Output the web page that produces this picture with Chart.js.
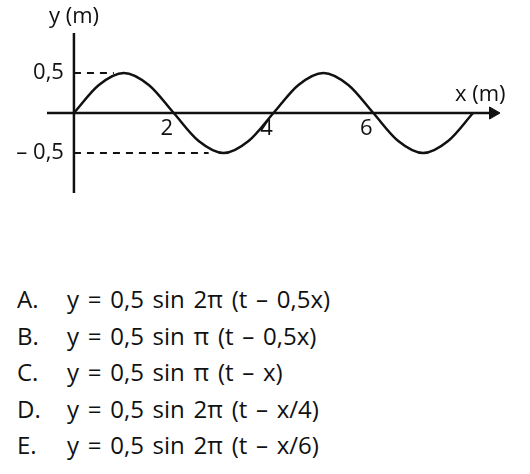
<!DOCTYPE html>
<html>
<head>
<meta charset="utf-8">
<script src="https://cdn.jsdelivr.net/npm/chart.js@4"></script>
<style>
    html, body { margin: 0; padding: 0; background: #fff; }
    #wrap { position: relative; width: 530px; height: 474px; }
    #chartBox { position: absolute; left: 0; top: 0; width: 530px; height: 230px; }
    #options { position: absolute; left: 0; top: 281px; font-family: "Open Sans", sans-serif; font-size: 24px; color: #111; }
    #options div { position: relative; height: 36.5px; line-height: 36.5px; }
    #options .lbl { position: absolute; left: 17px; }
    #options .eq { position: absolute; left: 67px; white-space: nowrap; word-spacing: 2.5px; }
</style>
</head>
<body>
<div id="wrap">
    <div id="chartBox"><canvas id="chartCanvas"></canvas></div>
    <div id="options"></div>
</div>
<script>
// adatok
const waveX = [0, 0.5, 1, 1.5, 2, 2.5, 3, 3.5, 4, 4.5, 5, 5.5, 6, 6.5, 7, 7.5, 8];
const waveY = [0, 0.35, 0.5, 0.35, 0, -0.35, -0.5, -0.35, 0, 0.35, 0.5, 0.35, 0, -0.35, -0.5, -0.35, 0];
const xTicks = [2, 4, 6];
const yTicks = [0.5, -0.5];
const yTickLabels = ["0,5", "– 0,5"];
const dashTopEnd = 0.8;
const dashBottomEnd = 2.7;
const optionLabels = ["A.", "B.", "C.", "D.", "E."];
const optionTexts = [
    "y = 0,5 sin 2π (t – 0,5x)",
    "y = 0,5 sin π (t – 0,5x)",
    "y = 0,5 sin π (t – x)",
    "y = 0,5 sin 2π (t – x/4)",
    "y = 0,5 sin 2π (t – x/6)"
];

const ink = "#111";

const opts = document.getElementById("options");
optionLabels.forEach((l, i) => {
    const row = document.createElement("div");
    row.innerHTML = `<span class="lbl">${l}</span><span class="eq">${optionTexts[i]}</span>`;
    opts.appendChild(row);
});

const labelPlugin = {
    id: "labels",
    afterDatasetsDraw(chart) {
        const { ctx, scales: { x, y } } = chart;
        ctx.save();
        ctx.fillStyle = ink;
        ctx.font = '22px "Open Sans", sans-serif';
        ctx.textBaseline = "middle";
        ctx.textAlign = "center";
        xTicks.forEach(v => ctx.fillText(String(v), x.getPixelForValue(v) - 7, y.getPixelForValue(0) + 16));
        ctx.textAlign = "right";
        yTicks.forEach((v, i) => ctx.fillText(yTickLabels[i], x.getPixelForValue(0) - 10, y.getPixelForValue(v)));
        ctx.textAlign = "left";
        ctx.fillText("y (m)", 49, 17);
        ctx.fillText("x (m)", 455, 95);
        ctx.restore();
    }
};

new Chart(document.getElementById("chartCanvas"), {
    type: "line",
    data: {
        datasets: [
            {
                data: waveX.map((v, i) => ({ x: v, y: waveY[i] })),
                borderColor: ink,
                borderWidth: 2.5,
                cubicInterpolationMode: "monotone",
                pointRadius: 0
            },
            {
                data: [{ x: 0, y: 1 }, { x: 0, y: -1 }],
                borderColor: ink,
                borderWidth: 2.5,
                pointRadius: 0
            },
            {
                data: [{ x: -0.54, y: 0 }, { x: 8.35, y: 0 }],
                borderColor: ink,
                borderWidth: 2.5,
                pointRadius: 0
            },
            {
                data: [{ x: 8.4, y: 0 }],
                pointStyle: "triangle",
                rotation: 90,
                pointRadius: 7,
                backgroundColor: ink,
                borderColor: ink,
                showLine: false
            },
            {
                data: [{ x: 0, y: 0.5 }, { x: dashTopEnd, y: 0.5 }],
                borderColor: ink,
                borderWidth: 1.8,
                borderDash: [7, 6],
                pointRadius: 0
            },
            {
                data: [{ x: 0, y: -0.5 }, { x: dashBottomEnd, y: -0.5 }],
                borderColor: ink,
                borderWidth: 1.8,
                borderDash: [7, 6],
                pointRadius: 0
            }
        ]
    },
    options: {
        responsive: true,
        maintainAspectRatio: false,
        animation: false,
        layout: { padding: { left: 47, right: 29, top: 33, bottom: 37 } },
        plugins: { legend: { display: false }, tooltip: { enabled: false } },
        scales: {
            x: { type: "linear", min: -0.54, max: 8.56, display: false },
            y: { type: "linear", min: -1, max: 1, display: false }
        }
    },
    plugins: [labelPlugin]
});
</script>
</body>
</html>
